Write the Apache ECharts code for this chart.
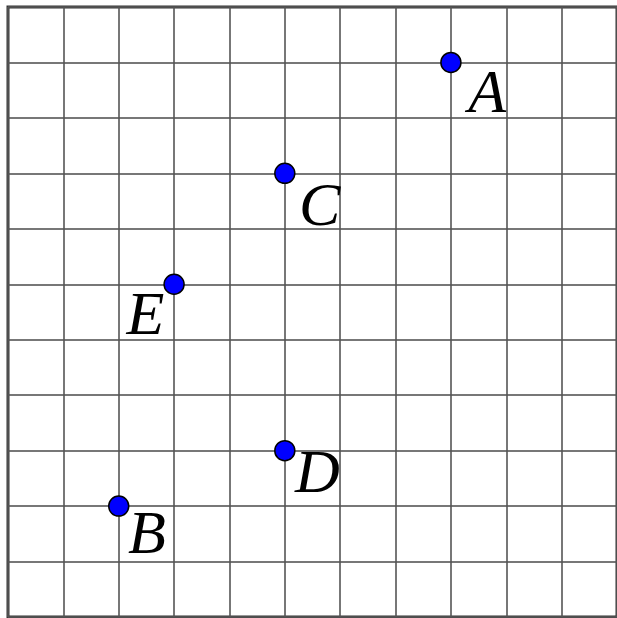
<!DOCTYPE html>
<html>
<head>
<meta charset="utf-8">
<script src="https://cdn.jsdelivr.net/npm/echarts@6/dist/echarts.min.js"></script>
<style>
  html, body { margin: 0; padding: 0; background: #fff; }
  #main { width: 617px; height: 618px; }
</style>
</head>
<body>
<div id="main"></div>
<script>
// points on the grid
var names = ['A', 'B', 'C', 'D', 'E'];
var xs = [8, 2, 5, 5, 3];
var ys = [10, 2, 8, 3, 6];

// where each letter sits next to its dot
var labelPlace = {
  A: { position: [28, 13], align: 'left' },
  B: { position: [20, 10], align: 'left' },
  C: { position: [25, 15], align: 'left' },
  D: { position: [21, 5], align: 'left' },
  E: { position: [1, 13], align: 'right' }
};

var myChart = echarts.init(document.getElementById('main'));

var pts = names.map(function (n, i) {
  return {
    name: n,
    value: [xs[i], ys[i]],
    label: {
      position: labelPlace[n].position,
      align: labelPlace[n].align
    }
  };
});

var gridLine = { show: true, lineStyle: { color: '#555', width: 2, opacity: 0.8 } };

myChart.setOption({
  animation: false,
  grid: {
    left: 8, top: 7, right: 0, bottom: 1,
    show: true, borderColor: '#333', borderWidth: 3
  },
  xAxis: {
    type: 'value', min: 0, max: 11, interval: 1,
    axisLabel: { show: false }, axisTick: { show: false }, axisLine: { show: false },
    splitLine: gridLine
  },
  yAxis: {
    type: 'value', min: 0, max: 11, interval: 1,
    axisLabel: { show: false }, axisTick: { show: false }, axisLine: { show: false },
    splitLine: gridLine
  },
  series: [{
    type: 'scatter',
    symbolSize: 20,
    itemStyle: { color: '#0000ff', borderColor: '#000', borderWidth: 1.5, opacity: 1 },
    label: {
      show: true,
      formatter: '{b}',
      verticalAlign: 'top',
      fontFamily: 'Liberation Serif',
      fontStyle: 'italic',
      fontSize: 62,
      lineHeight: 62,
      color: '#000'
    },
    data: pts
  }]
});
</script>
</body>
</html>
